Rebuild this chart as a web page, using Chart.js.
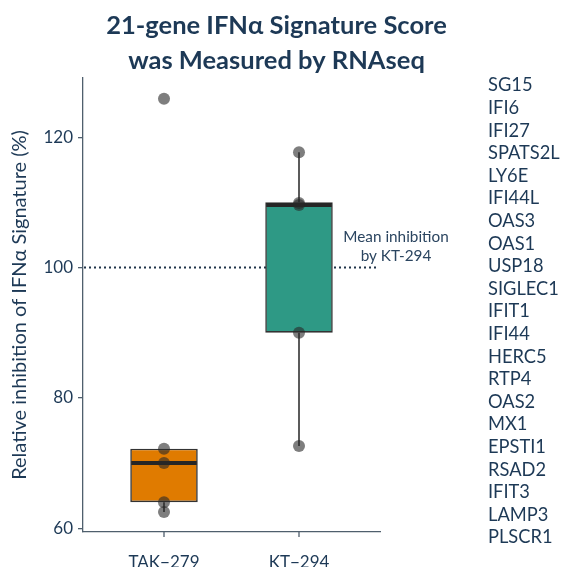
<!DOCTYPE html>
<html>
<head>
<meta charset="utf-8">
<script src="https://cdn.jsdelivr.net/npm/chart.js@4.4.1/dist/chart.umd.min.js"></script>
<style>
  html, body { margin: 0; padding: 0; background: #fff; }
  #wrap { width: 565px; height: 567px; position: relative; }
</style>
</head>
<body>
<div id="wrap"><canvas id="scoreChart"></canvas></div>
<script>
// =====================
// data
// =====================
const categories = ["TAK\u2212279", "KT\u2212294"];
const takPoints = [125.9, 72.2, 70.0, 64.0, 62.5];
const ktPoints = [117.7, 109.9, 109.6, 90.0, 72.6];
const boxQ1 = [64.0, 90.0];
const boxMedian = [70.0, 109.6];
const boxQ3 = [72.2, 110.0];
const whiskerLow = [62.5, 72.6];
const whiskerHigh = [72.2, 117.7];
const meanLevel = 100;
const yTicks = [60, 80, 100, 120];
const genes = [
  "SG15", "IFI6", "IFI27", "SPATS2L", "LY6E", "IFI44L", "OAS3", "OAS1",
  "USP18", "SIGLEC1", "IFIT1", "IFI44", "HERC5", "RTP4", "OAS2", "MX1",
  "EPSTI1", "RSAD2", "IFIT3", "LAMP3", "PLSCR1"
];

const textColor = "#1d3956";
const axisColor = "#4f5f6d";
const boxColors = ["#E07B00", "#2E9985"];

Chart.defaults.font.family = "Lato, 'Open Sans', sans-serif";
Chart.defaults.color = textColor;

// mean line, whiskers, medians and side texts
const boxExtras = {
  id: "boxExtras",
  beforeDatasetsDraw(chart) {
    const { ctx, chartArea, scales } = chart;
    const x = scales.x, y = scales.y;
    ctx.save();
    // dotted mean line
    ctx.strokeStyle = "#1f3348";
    ctx.lineWidth = 2;
    ctx.setLineDash([2, 3]);
    ctx.beginPath();
    ctx.moveTo(chartArea.left + 1, y.getPixelForValue(meanLevel));
    ctx.lineTo(chartArea.right - 2, y.getPixelForValue(meanLevel));
    ctx.stroke();
    ctx.setLineDash([]);
    // whiskers
    ctx.strokeStyle = "#333";
    ctx.lineWidth = 1.6;
    categories.forEach((c, i) => {
      const px = x.getPixelForValue(i + 1);
      ctx.beginPath();
      ctx.moveTo(px, y.getPixelForValue(whiskerLow[i]));
      ctx.lineTo(px, y.getPixelForValue(boxQ1[i]));
      ctx.moveTo(px, y.getPixelForValue(boxQ3[i]));
      ctx.lineTo(px, y.getPixelForValue(whiskerHigh[i]));
      ctx.stroke();
    });
    ctx.restore();
  },
  afterDatasetDraw(chart, args) {
    if (args.index !== 0) return;
    const { ctx, scales } = chart;
    const x = scales.x, y = scales.y;
    const half = (x.getPixelForValue(1.25) - x.getPixelForValue(1));
    ctx.save();
    ctx.strokeStyle = "#262626";
    ctx.lineWidth = 4;
    categories.forEach((c, i) => {
      const px = x.getPixelForValue(i + 1);
      const py = y.getPixelForValue(boxMedian[i]);
      ctx.beginPath();
      ctx.moveTo(px - half + 1, py);
      ctx.lineTo(px + half - 1, py);
      ctx.stroke();
    });
    ctx.restore();
  },
  afterDraw(chart) {
    const { ctx, chartArea, scales } = chart;
    const my = scales.y.getPixelForValue(meanLevel);
    ctx.save();
    // x tick marks under each category
    ctx.strokeStyle = axisColor;
    ctx.lineWidth = 1.3;
    categories.forEach((c, i) => {
      const px = scales.x.getPixelForValue(i + 1);
      ctx.beginPath();
      ctx.moveTo(px, chartArea.bottom);
      ctx.lineTo(px, chartArea.bottom + 5);
      ctx.stroke();
    });
    ctx.fillStyle = "#2b4560";
    ctx.textAlign = "center";
    ctx.textBaseline = "middle";
    ctx.font = "15.3px Lato";
    ctx.fillText("Mean inhibition", chartArea.right + 16, my - 30);
    ctx.fillText("by KT-294", chartArea.right + 16, my - 11);
    // gene list
    ctx.fillStyle = textColor;
    ctx.textAlign = "left";
    ctx.font = "18.3px Lato";
    genes.forEach((g, i) => {
      ctx.fillText(g, 488, 85.5 + i * 22.6);
    });
    ctx.restore();
  }
};

new Chart(document.getElementById("scoreChart"), {
  type: "bar",
  data: {
    datasets: [
      {
        type: "bar",
        data: categories.map((c, i) => ({ x: i + 1, y: [boxQ1[i], boxQ3[i]] })),
        backgroundColor: boxColors,
        borderColor: "#333",
        borderWidth: 1.6,
        borderSkipped: false,
        categoryPercentage: 1,
        barPercentage: 0.5,
        order: 2
      },
      {
        type: "scatter",
        data: [
          ...takPoints.map(v => ({ x: 1, y: v })),
          ...ktPoints.map(v => ({ x: 2, y: v }))
        ],
        pointRadius: 6,
        pointHoverRadius: 6,
        backgroundColor: "rgba(40,40,40,0.6)",
        borderWidth: 0,
        order: 1
      }
    ]
  },
  options: {
    responsive: true,
    maintainAspectRatio: false,
    animation: false,
    layout: { padding: { left: 0, right: 12, top: 0, bottom: 0 } },
    plugins: {
      legend: { display: false },
      tooltip: { enabled: false },
      title: {
        display: true,
        text: ["21-gene IFN\u03b1 Signature Score", "was Measured by RNAseq"],
        color: textColor,
        font: { size: 25.5, weight: "bold", lineHeight: 1.37 },
        padding: { top: 8, bottom: 0 }
      }
    },
    scales: {
      x: {
        type: "linear",
        min: 0.4,
        max: 2.6,
        offset: false,
        afterBuildTicks: s => { s.ticks = categories.map((c, i) => ({ value: i + 1 })); },
        afterFit: s => { s.height = 35; },
        ticks: {
          callback: (v, i) => categories[i],
          font: { size: 17 },
          color: textColor,
          padding: 12,
          maxRotation: 0
        },
        grid: { display: false },
        border: { display: true, color: axisColor, width: 1.3 }
      },
      y: {
        type: "linear",
        min: 59.42,
        max: 129.1,
        afterBuildTicks: s => { s.ticks = yTicks.map(v => ({ value: v })); },
        afterFit: s => { s.width = 83; },
        ticks: { font: { size: 17 }, color: textColor, padding: 5 },
        grid: { display: true, offset: false, drawOnChartArea: false, tickLength: 5, color: axisColor, lineWidth: 1.3 },
        border: { display: true, color: axisColor, width: 1.3 },
        title: {
          display: true,
          text: "Relative inhibition of IFN\u03b1 Signature (%)",
          color: textColor,
          font: { size: 20 },
          padding: { top: 8, bottom: 0 }
        }
      },
      side: {
        type: "linear",
        position: "right",
        display: true,
        afterFit: s => { s.width = 173; },
        ticks: { display: false },
        grid: { display: false },
        border: { display: false }
      }
    }
  },
  plugins: [boxExtras]
});
</script>
</body>
</html>
